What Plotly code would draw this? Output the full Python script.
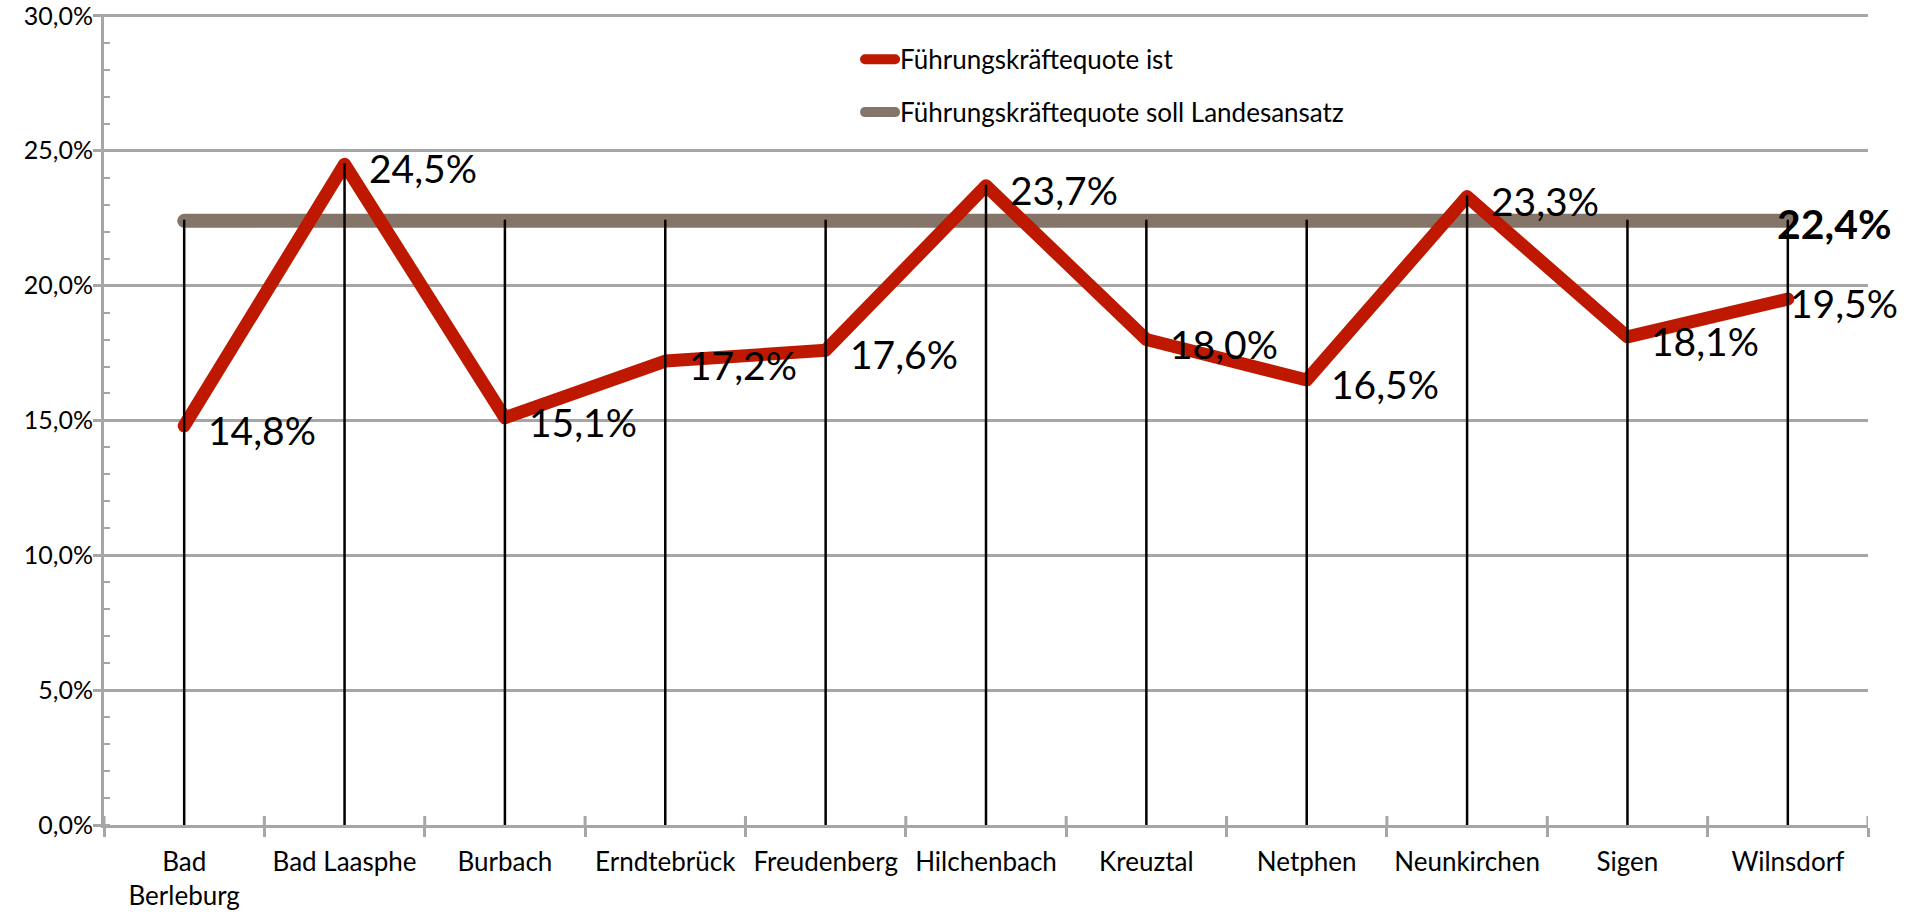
import plotly.graph_objects as go

# ---- data ----
categories = ["Bad<br>Berleburg", "Bad Laasphe", "Burbach", "Erndtebrück", "Freudenberg",
              "Hilchenbach", "Kreuztal", "Netphen", "Neunkirchen", "Sigen", "Wilnsdorf"]
ist_values = [0.148, 0.245, 0.151, 0.172, 0.176, 0.237, 0.180, 0.165, 0.233, 0.181, 0.195]
soll_values = [0.224, 0.224, 0.224, 0.224, 0.224, 0.224, 0.224, 0.224, 0.224, 0.224, 0.224]
ist_name = "Führungskräftequote ist"
soll_name = "Führungskräftequote soll Landesansatz"
y_tick_values = [0.0, 0.05, 0.10, 0.15, 0.20, 0.25, 0.30]

# ---- styles ----
RED = "#BE1900"
BROWN = "#857468"
GRID = "#A6A6A6"
FONT = "Lato"
W, H = 1914, 914
M_L, M_R, M_T, M_B = 104, 46, 14, 89
plot_h = H - M_T - M_B


def pct(v):
    return f"{v*100:.1f}".replace(".", ",") + "%"


fig = go.Figure()

fig.add_trace(go.Scatter(
    x=categories, y=soll_values, mode="lines", name=soll_name,
    line=dict(color=BROWN, width=14), legendgroup="soll", legendrank=2,
    hoverinfo="skip"))

fig.add_trace(go.Scatter(
    x=categories, y=ist_values, mode="lines", name=ist_name,
    line=dict(color=RED, width=13), legendgroup="ist", legendrank=1,
    hoverinfo="skip"))

# drop lines from highest series value to the axis
dx, dy = [], []
for c, a, b in zip(categories, ist_values, soll_values):
    dx += [c, c, None]
    dy += [0, max(a, b), None]
fig.add_trace(go.Scatter(x=dx, y=dy, mode="lines", showlegend=False,
                         line=dict(color="black", width=2.5), hoverinfo="skip"))

# data labels
n = len(categories)
for i, (c, v) in enumerate(zip(categories, ist_values)):
    fig.add_annotation(x=c, y=v, text=pct(v), showarrow=False,
                       xanchor="left", yanchor="middle",
                       xshift=0 if i == n - 1 else 22, yshift=-4,
                       font=dict(family=FONT, size=39, color="black"))
fig.add_annotation(x=categories[-1], y=soll_values[-1], text=pct(soll_values[-1]),
                   showarrow=False, xanchor="left", yanchor="middle",
                   xshift=-13, yshift=-3,
                   font=dict(family=FONT, size=41, color="black", weight="bold"))

# inner half of the crossing category ticks
for k in range(n + 1):
    fig.add_shape(type="line", xref="x", yref="paper",
                  x0=k - 0.5, x1=k - 0.5, y0=0, y1=9 / plot_h,
                  line=dict(color=GRID, width=3), layer="above")

fig.update_layout(
    width=W, height=H,
    margin=dict(l=M_L, r=M_R, t=M_T, b=M_B, autoexpand=False),
    paper_bgcolor="white", plot_bgcolor="white",
    separators=",.",
    font=dict(family=FONT, size=26, color="black"),
    showlegend=True,
    legend=dict(x=0.4286, xanchor="left", y=0.973, yanchor="top",
                traceorder="grouped", tracegroupgap=16,
                bgcolor="rgba(0,0,0,0)", font=dict(family=FONT, size=26, color="black")),
    xaxis=dict(type="category", range=[-0.5, n - 0.5], tickson="boundaries",
               ticks="outside", ticklen=9, tickwidth=3, tickcolor=GRID,
               showline=True, linecolor=GRID, linewidth=3,
               showgrid=False, zeroline=False, ticklabelstandoff=12,
               tickfont=dict(family=FONT, size=26, color="black")),
    yaxis=dict(range=[0, 0.3007], tickvals=y_tick_values, tickformat=".1%",
               ticks="outside", ticklen=8, tickwidth=3, tickcolor=GRID,
               showline=True, linecolor=GRID, linewidth=3,
               showgrid=True, gridcolor=GRID, gridwidth=3,
               zeroline=False, ticklabelstandoff=-5, ticklabeloverflow="allow",
               minor=dict(dtick=0.01, ticks="inside", ticklen=6, tickwidth=2,
                          tickcolor=GRID, showgrid=False),
               tickfont=dict(family=FONT, size=25, color="black")),
)

post = """
var gd = document.getElementById('{plot_id}');
document.body.style.margin = '0';
gd.querySelectorAll('path.js-line').forEach(function(p){
  p.style.strokeLinejoin = 'round'; p.style.strokeLinecap = 'round';
});
"""

fig.write_html("out.html", post_script=post, config={"displayModeBar": False})
